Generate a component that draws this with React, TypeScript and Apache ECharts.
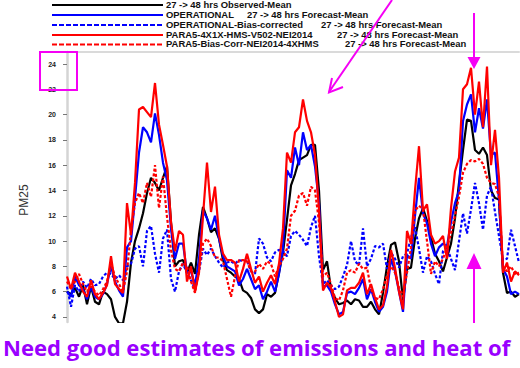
import React, { useEffect, useRef } from "react";
import * as echarts from "echarts";

// Hour index along the forecast period (one sample every step)
const hours: number[] = Array.from({ length: 114 }, (_, i) => i);

const observed: number[] = [
  6.0, 5.8, 6.3, 5.6, 6.5, 5.0, 6.4, 5.2, 5.0, 6.0, 5.8, 5.4, 4.0, 3.5, 3.5, 5.2, 8.3, 10.0, 11.0, 12.2,
  13.8, 15.0, 14.6, 14.0, 15.0, 15.9, 11.5, 8.0, 8.4, 8.5, 7.5, 8.3, 7.4, 10.5, 12.7, 11.8, 10.7, 11.0, 10.2, 8.5,
  7.7, 7.5, 7.2, 7.0, 6.1, 5.9, 5.5, 4.6, 4.3, 4.6, 5.8, 5.6, 5.9, 7.5, 9.1, 11.7, 14.4, 15.3, 16.4, 16.6,
  16.8, 17.6, 17.6, 14.0, 7.7, 8.4, 6.2, 5.5, 5.0, 5.1, 5.3, 5.0, 5.4, 5.3, 4.8, 4.8, 5.2, 4.6, 4.2, 5.9,
  8.0, 9.7, 9.9, 8.4, 5.3, 7.8, 7.9, 10.2, 11.8, 12.6, 11.6, 10.3, 9.0, 8.4, 7.6, 8.7, 9.8, 11.8, 14.6, 17.2,
  19.6, 19.5, 17.2, 16.9, 17.4, 16.8, 14.0, 13.4, 13.3, 7.5, 5.9, 6.0, 5.6, 5.8,
];

const operational: number[] = [
  6.0, 5.6, 7.2, 6.5, 6.2, 5.4, 6.4, 5.6, 5.4, 5.8, 6.6, 8.0, 6.8, 6.1, 5.6, 9.5, 10.0, 13.4, 17.0, 19.0,
  18.6, 17.8, 20.1, 18.4, 16.2, 14.8, 11.0, 8.6, 9.8, 9.8, 7.5, 7.6, 6.5, 8.6, 12.4, 11.8, 10.9, 12.0, 10.2, 8.8,
  8.0, 7.8, 7.6, 6.5, 7.0, 7.8, 7.0, 6.2, 6.5, 5.4, 6.0, 6.8, 6.0, 7.4, 9.5, 15.6, 15.0, 17.4, 16.0, 18.6,
  17.2, 17.6, 15.9, 13.0, 6.4, 6.5, 6.0, 5.0, 4.2, 4.4, 5.9, 6.0, 5.8, 6.3, 7.0, 5.4, 6.2, 5.2, 4.4, 4.8,
  6.0, 8.6, 7.6, 6.0, 4.4, 8.9, 8.6, 12.0, 15.0, 12.2, 11.4, 9.8, 8.8, 9.5, 9.8, 9.6, 11.5, 13.0, 14.0, 19.5,
  20.8, 21.6, 18.6, 20.5, 18.9, 21.2, 16.8, 17.0, 13.2, 7.8, 7.2, 5.8, 6.0, 5.8,
];

const operationalBiasCorr: number[] = [
  6.4, 4.8, 6.5, 6.0, 6.8, 6.3, 7.0, 6.5, 6.6, 7.2, 7.5, 7.4, 7.0, 7.3, 6.9, 8.0, 8.2, 9.4, 9.6, 8.0,
  10.8, 11.2, 9.0, 7.5, 10.2, 10.9, 7.0, 6.0, 7.6, 8.2, 7.5, 6.9, 6.2, 7.6, 9.4, 8.9, 9.4, 8.8, 8.3, 7.9,
  8.3, 8.4, 8.2, 8.5, 8.4, 8.5, 7.6, 7.4, 10.2, 9.8, 8.7, 8.4, 9.1, 9.3, 9.2, 8.8, 10.4, 10.8, 10.5, 10.1,
  9.6, 11.1, 12.0, 8.8, 6.6, 6.9, 6.5, 6.2, 6.4, 7.2, 8.1, 10.0, 8.4, 8.1, 11.0, 8.0, 8.6, 9.6, 9.5, 9.8,
  7.8, 9.1, 8.6, 7.9, 8.8, 9.0, 10.3, 11.1, 9.4, 7.5, 8.8, 8.4, 7.4, 6.6, 9.2, 9.5, 8.6, 7.7, 10.0, 12.2,
  10.6, 12.5, 14.6, 13.0, 10.9, 13.6, 14.3, 12.3, 10.4, 8.5, 8.6, 10.9, 9.6, 8.3,
];

const para5: number[] = [
  7.2, 6.2, 7.5, 6.8, 6.0, 5.6, 6.9, 5.8, 5.4, 5.9, 6.5, 8.8, 6.6, 6.2, 5.9, 13.0, 10.5, 14.6, 20.4, 20.6,
  20.2, 19.8, 22.5, 19.2, 17.6, 15.9, 11.5, 9.2, 10.8, 10.5, 6.8, 8.0, 6.0, 7.5, 12.0, 16.2, 12.3, 14.3, 10.5, 9.0,
  8.5, 8.5, 8.3, 6.8, 7.8, 9.0, 7.8, 6.7, 7.2, 6.0, 6.7, 7.3, 6.6, 8.2, 11.0, 17.0, 16.2, 18.6, 19.0, 21.2,
  19.5, 18.6, 16.8, 12.5, 6.1, 6.7, 6.3, 5.2, 4.0, 4.2, 6.1, 6.3, 6.3, 6.7, 7.5, 5.8, 6.6, 5.5, 4.6, 4.9,
  6.4, 9.3, 7.9, 6.0, 4.6, 10.8, 9.8, 14.0, 17.5, 12.4, 12.9, 10.5, 9.8, 10.0, 10.4, 8.6, 12.6, 15.5, 16.6, 22.0,
  22.4, 23.7, 20.0, 22.6, 19.0, 23.8, 16.0, 18.8, 15.0, 7.5, 8.3, 6.8, 7.6, 7.3,
];

const para5BiasCorr: number[] = [
  6.8, 6.2, 6.8, 7.4, 6.6, 6.0, 6.4, 6.0, 5.7, 6.2, 6.8, 8.2, 7.2, 6.6, 6.0, 7.6, 10.8, 13.0, 13.8, 13.0,
  14.6, 13.5, 16.0, 12.6, 15.1, 11.9, 9.3, 7.8, 7.6, 8.3, 8.0, 6.8, 5.9, 7.8, 9.8, 10.2, 9.6, 8.7, 8.7, 8.4,
  7.0, 5.6, 7.2, 8.5, 8.5, 8.4, 7.6, 7.6, 8.2, 7.8, 8.4, 8.2, 7.2, 8.0, 8.6, 9.4, 12.0, 12.4, 13.6, 13.8,
  12.8, 14.3, 14.0, 11.5, 7.2, 7.5, 6.6, 5.5, 5.3, 6.1, 7.5, 7.7, 7.5, 8.2, 7.8, 7.9, 6.2, 5.5, 5.4, 6.2,
  7.3, 8.0, 7.5, 6.3, 5.6, 7.5, 9.5, 12.4, 12.8, 12.5, 10.0, 7.4, 8.4, 8.0, 8.6, 9.5, 10.6, 12.0, 13.5, 15.4,
  16.1, 16.4, 16.3, 16.5, 16.1, 15.0, 14.6, 14.5, 13.5, 8.0, 7.6, 8.0, 7.4, 7.5,
];

const yTicks: number[] = [4, 6, 8, 10, 12, 14, 16, 18, 20, 22, 24];

const legendRows = [
  { name: "27 -> 48 hrs Observed-Mean", suffix: "", color: "#000000", dashed: false },
  { name: "OPERATIONAL", suffix: "27 -> 48 hrs Forecast-Mean", color: "#0000ff", dashed: false },
  { name: "OPERATIONAL-Bias-corrected", suffix: "27 -> 48 hrs Forecast-Mean", color: "#0000ff", dashed: true },
  { name: "PARA5-4X1X-HMS-V502-NEI2014", suffix: "27 -> 48 hrs Forecast-Mean", color: "#ff0000", dashed: false },
  { name: "PARA5-Bias-Corr-NEI2014-4XHMS", suffix: "27 -> 48 hrs Forecast-Mean", color: "#ff0000", dashed: true },
];
const legendRowY = [5, 15, 25, 35, 44.5];
const legendSuffixX = [0, 247, 321, 337, 345];

const MAGENTA = "#f500f5";
const DASH = [3, 2];

export default function App() {
  const ref = useRef<HTMLDivElement>(null);

  useEffect(() => {
    if (!ref.current) return;
    const chart = echarts.init(ref.current, null, { renderer: "svg" });

    const seriesDefs = [
      { name: "Observed", data: observed, color: "#000000", dashed: false },
      { name: "OPERATIONAL", data: operational, color: "#0000ff", dashed: false },
      { name: "OPERATIONAL-Bias-corrected", data: operationalBiasCorr, color: "#0000ff", dashed: true },
      { name: "PARA5-4X1X-HMS-V502-NEI2014", data: para5, color: "#ff0000", dashed: false },
      { name: "PARA5-Bias-Corr-NEI2014-4XHMS", data: para5BiasCorr, color: "#ff0000", dashed: true },
    ];

    const legendGraphics: any[] = [];
    legendRows.forEach((row, i) => {
      const y = legendRowY[i];
      legendGraphics.push({
        type: "line",
        shape: { x1: 52, y1: y, x2: 163, y2: y },
        style: {
          stroke: row.color,
          lineWidth: 2,
          lineDash: row.dashed ? [5, 2] : null,
        },
      });
      legendGraphics.push({
        type: "text",
        x: 166,
        y,
        scaleX: 1.11,
        style: {
          text: row.name,
          font: "bold 8.5px 'Liberation Sans', Arial, sans-serif",
          fill: "#111",
          verticalAlign: "middle",
        },
      });
      if (row.suffix) {
        legendGraphics.push({
          type: "text",
          x: legendSuffixX[i],
          y,
          scaleX: 1.11,
          style: {
            text: row.suffix,
            font: "bold 8.5px 'Liberation Sans', Arial, sans-serif",
            fill: "#111",
            verticalAlign: "middle",
          },
        });
      }
    });

    chart.setOption({
      animation: false,
      backgroundColor: "#ffffff",
      grid: { left: 67, right: 1, top: 52, bottom: 46, containLabel: false },
      xAxis: {
        type: "category",
        data: hours,
        boundaryGap: false,
        position: "top",
        axisLine: { show: true, lineStyle: { color: "#dadada", width: 2 } },
        axisTick: { show: false },
        axisLabel: { show: false },
        splitLine: { show: false },
      },
      yAxis: {
        type: "value",
        min: 3.6,
        max: 24.95,
        axisLine: { show: true, lineStyle: { color: "#d4d4d4", width: 2.5 } },
        axisTick: {
          show: true,
          length: 4,
          customValues: yTicks,
          lineStyle: { color: "#777", width: 1 },
        },
        axisLabel: {
          show: true,
          customValues: yTicks,
          margin: 11,
          fontSize: 7,
          fontWeight: "bold",
          fontFamily: "'Liberation Sans', Arial, sans-serif",
          color: "#222",
        },
        splitLine: { show: false },
      },
      series: seriesDefs.map((s) => ({
        name: s.name,
        type: "line",
        data: s.data,
        showSymbol: false,
        symbol: "none",
        smooth: false,
        clip: true,
        lineStyle: {
          color: s.color,
          width: 2.2,
          type: s.dashed ? DASH : "solid",
        },
        itemStyle: { color: s.color },
      })),
      graphic: [
        ...legendGraphics,
        {
          type: "text",
          x: 24,
          y: 200,
          rotation: Math.PI / 2,
          style: {
            text: "PM25",
            font: "12px 'Liberation Sans', Arial, sans-serif",
            fill: "#333",
            align: "center",
            verticalAlign: "middle",
          },
        },
        // highlight box round the top tick label
        {
          type: "rect",
          shape: { x: 40, y: 52, width: 37, height: 38 },
          style: { fill: "none", stroke: MAGENTA, lineWidth: 2 },
          z: 100,
        },
        // diagonal pointer
        {
          type: "line",
          shape: { x1: 392, y1: 0, x2: 329, y2: 92 },
          style: { stroke: MAGENTA, lineWidth: 2 },
          z: 100,
        },
        {
          type: "polyline",
          shape: { points: [[343, 87], [329, 92.5], [332, 78]] },
          style: { stroke: MAGENTA, lineWidth: 2, fill: "none" },
          z: 100,
        },
        // downward arrow over the third peak
        {
          type: "line",
          shape: { x1: 474, y1: 13, x2: 474, y2: 60 },
          style: { stroke: MAGENTA, lineWidth: 2 },
          z: 100,
        },
        {
          type: "polygon",
          shape: { points: [[467.5, 57], [480.5, 57], [474, 69]] },
          style: { fill: MAGENTA },
          z: 100,
        },
        // upward arrow under the third peak
        {
          type: "line",
          shape: { x1: 474, y1: 266, x2: 474, y2: 323 },
          style: { stroke: MAGENTA, lineWidth: 2 },
          z: 100,
        },
        {
          type: "polygon",
          shape: { points: [[466.5, 269], [481.5, 269], [474, 253]] },
          style: { fill: MAGENTA },
          z: 100,
        },
        {
          type: "text",
          x: 3,
          y: 347,
          style: {
            text: "Need good estimates of emissions and heat of",
            font: "bold 22.1px 'Open Sans', sans-serif",
            fill: "#9a00ff",
            verticalAlign: "middle",
          },
          z: 100,
        },
      ],
    });

    return () => chart.dispose();
  }, []);

  return (
    <div
      ref={ref}
      style={{ position: "fixed", left: 0, top: 0, width: 520, height: 368, background: "#fff" }}
    />
  );
}
